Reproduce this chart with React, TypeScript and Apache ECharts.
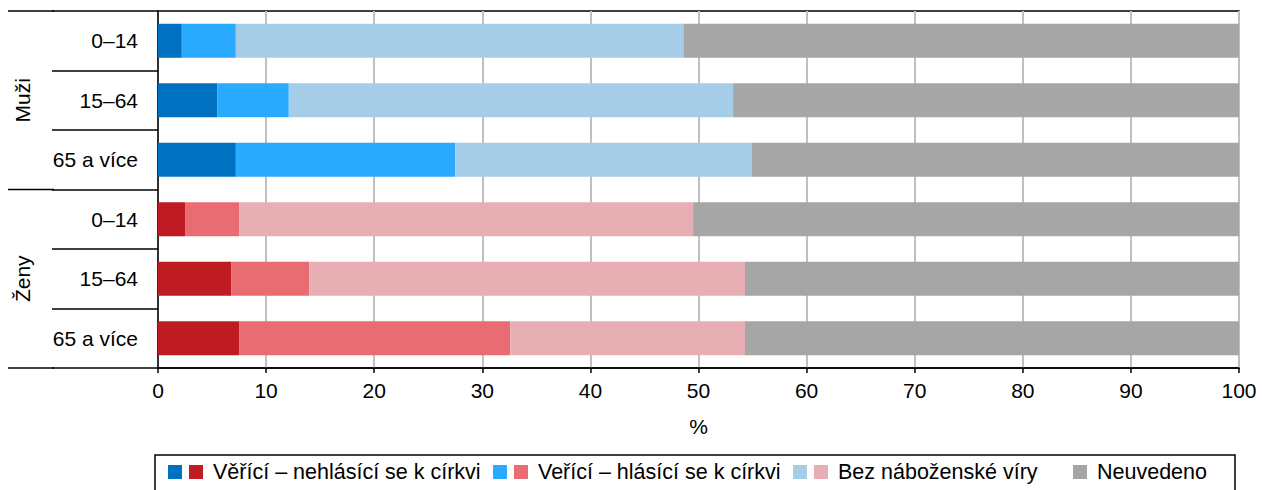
import React, { useEffect, useRef } from "react";
import * as echarts from "echarts";

const groups = ["Muži", "Ženy"];
const categories = ["M|0–14", "M|15–64", "M|65 a více", "Z|0–14", "Z|15–64", "Z|65 a více"];
const seriesNames = [
  "Věřící – nehlásící se k církvi",
  "Veřící – hlásící se k církvi",
  "Bez náboženské víry",
  "Neuvedeno",
];
const believersNotAffiliated = [2.2, 5.5, 7.2, 2.5, 6.8, 7.5];
const believersAffiliated = [5.0, 6.6, 20.3, 5.0, 7.2, 25.1];
const noReligion = [41.4, 41.1, 27.4, 42.0, 40.3, 21.7];
const notStated = [51.4, 46.8, 45.1, 50.5, 45.7, 45.7];
const seriesValues = [believersNotAffiliated, believersAffiliated, noReligion, notStated];

const maleColors = ["#0070C0", "#2AAAFF", "#A6CDE7", "#A6A6A6"];
const femaleColors = ["#BE1B22", "#EA6C73", "#E7AFB3", "#A6A6A6"];

const FONT = "'Liberation Sans', Arial, sans-serif";

export default function App() {
  const ref = useRef<HTMLDivElement>(null);
  useEffect(() => {
    if (!ref.current) return;
    const chart = echarts.init(ref.current, undefined, { renderer: "svg" });
    const W = 1262;
    const H = 490;
    const gLeft = 158;
    const gRight = 23;
    const gTop = 11;
    const gBottom = 122;
    const plotH = H - gTop - gBottom;
    const rowH = plotH / categories.length;
    const perGroup = categories.length / groups.length;

    const graphics: any[] = [];
    // group separators
    for (let i = 0; i <= groups.length; i++) {
      const y = gTop + i * perGroup * rowH;
      graphics.push({
        type: "line",
        shape: { x1: 8, y1: y, x2: 54, y2: y },
        style: { stroke: "#000", lineWidth: 1.5 },
      });
    }
    groups.forEach((g, i) => {
      graphics.push({
        type: "text",
        x: 22,
        y: gTop + (i + 0.5) * perGroup * rowH,
        rotation: Math.PI / 2,
        style: { text: g, font: `21px ${FONT}`, fill: "#000", align: "center", verticalAlign: "middle" },
      });
    });
    // legend box
    graphics.push({
      type: "rect",
      shape: { x: 155, y: 455, width: 1080, height: 60 },
      style: { fill: "#fff", stroke: "#000", lineWidth: 1.5 },
    });
    const legendX = [168, 493, 793, 1073];
    const legendY = 472;
    seriesNames.forEach((name, i) => {
      let x = legendX[i];
      const swatches = maleColors[i] === femaleColors[i] ? [maleColors[i]] : [maleColors[i], femaleColors[i]];
      swatches.forEach((c) => {
        graphics.push({
          type: "rect",
          shape: { x, y: legendY - 7, width: 14, height: 14 },
          style: { fill: c },
        });
        x += 21;
      });
      graphics.push({
        type: "text",
        x: x - 9 + 12 + (swatches.length === 1 ? 0 : 0),
        y: legendY,
        style: { text: name, font: `21.5px ${FONT}`, fill: "#000", align: "left", verticalAlign: "middle" },
      });
    });

    chart.setOption({
      animation: false,
      textStyle: { fontFamily: FONT },
      grid: {
        left: gLeft,
        right: gRight,
        top: gTop,
        bottom: gBottom,
        show: true,
        borderColor: "#000",
        borderWidth: 1.5,
        backgroundColor: "transparent",
      },
      xAxis: {
        type: "value",
        min: 0,
        max: 100,
        interval: 10,
        name: "%",
        nameLocation: "middle",
        nameGap: 48,
        nameTextStyle: { fontSize: 21, color: "#000", fontFamily: FONT },
        axisLine: { show: true, lineStyle: { color: "#000", width: 1.5 } },
        axisTick: { show: true, length: 5, lineStyle: { color: "#000", width: 1.5 } },
        axisLabel: { fontSize: 21, color: "#000", margin: 12, fontFamily: FONT },
        splitLine: { show: true, lineStyle: { color: "#C0C0C0", width: 2 } },
      },
      yAxis: {
        type: "category",
        data: categories,
        inverse: true,
        axisLine: { show: true, lineStyle: { color: "#000", width: 1.5 } },
        axisTick: { show: true, length: 106, lineStyle: { color: "#000", width: 1.5 } },
        axisLabel: {
          fontSize: 21,
          color: "#000",
          margin: 20,
          fontFamily: FONT,
          formatter: (v: string) => v.split("|")[1],
        },
        splitLine: { show: false },
      },
      series: seriesValues.map((vals, si) => ({
        name: seriesNames[si],
        type: "bar",
        stack: "total",
        barWidth: 34,
        data: vals.map((v, ci) => ({
          value: v,
          itemStyle: { color: categories[ci].startsWith("M") ? maleColors[si] : femaleColors[si] },
        })),
      })),
      graphic: graphics,
    });
    return () => chart.dispose();
  }, []);
  return <div ref={ref} style={{ position: "fixed", left: 0, top: 0, width: 1262, height: 490, background: "#fff" }} />;
}
